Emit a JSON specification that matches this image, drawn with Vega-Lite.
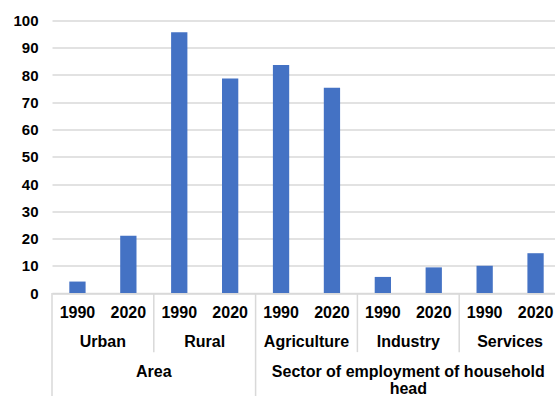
{
  "$schema": "https://vega.github.io/schema/vega-lite/v6.json",
  "width": 503,
  "height": 272.5,
  "autosize": {"type": "none"},
  "padding": {"left": 52, "top": 20.5, "right": 0, "bottom": 103},
  "config": {
    "view": {"stroke": null},
    "font": "Liberation Sans",
    "text": {"font": "Liberation Sans", "fontWeight": "bold", "fontSize": 16, "color": "#000000"},
    "axisY": {
      "title": null, "labelOverlap": false,
      "domain": false, "ticks": false, "labelPadding": 14,
      "labelFont": "Liberation Sans", "labelFontWeight": "bold", "labelFontSize": 15, "labelColor": "#000000",
      "gridColor": "#d9d9d9", "gridWidth": 1.3
    },
    "axisX": {"labels": false, "ticks": false, "title": null, "domain": true, "domainColor": "#d9d9d9", "domainWidth": 1.5, "grid": false}
  },
  "datasets": {
    "bars": [
      {"group": "Area", "category": "Urban", "year": "1990", "bar": "Urban 1990", "value": 4.2},
      {"group": "Area", "category": "Urban", "year": "2020", "bar": "Urban 2020", "value": 21.0},
      {"group": "Area", "category": "Rural", "year": "1990", "bar": "Rural 1990", "value": 95.7},
      {"group": "Area", "category": "Rural", "year": "2020", "bar": "Rural 2020", "value": 78.7},
      {"group": "Sector", "category": "Agriculture", "year": "1990", "bar": "Agriculture 1990", "value": 83.7},
      {"group": "Sector", "category": "Agriculture", "year": "2020", "bar": "Agriculture 2020", "value": 75.3},
      {"group": "Sector", "category": "Industry", "year": "1990", "bar": "Industry 1990", "value": 5.9},
      {"group": "Sector", "category": "Industry", "year": "2020", "bar": "Industry 2020", "value": 9.4},
      {"group": "Sector", "category": "Services", "year": "1990", "bar": "Services 1990", "value": 10.0},
      {"group": "Sector", "category": "Services", "year": "2020", "bar": "Services 2020", "value": 14.6}
    ],
    "groups": [
      {"label": "Area", "anchor": "Rural 1990"},
      {"label": "Sector of employment of household\nhead", "anchor": "Industry 2020"}
    ]
  },
  "resolve": {"scale": {"x": "shared", "y": "shared"}},
  "layer": [
    {
      "data": {"name": "bars"},
      "mark": {"type": "bar", "color": "#4472C4", "width": {"band": 0.32}},
      "encoding": {
        "x": {
          "field": "bar", "type": "nominal", "sort": null,
          "scale": {
            "domain": ["Urban 1990", "Urban 2020", "Rural 1990", "Rural 2020", "Agriculture 1990", "Agriculture 2020", "Industry 1990", "Industry 2020", "Services 1990", "Services 2020"],
            "range": [0, 509], "paddingInner": 0, "paddingOuter": 0
          }
        },
        "y": {
          "field": "value", "type": "quantitative",
          "scale": {"domain": [0, 100], "nice": false, "zero": true},
          "axis": {"values": [0, 10, 20, 30, 40, 50, 60, 70, 80, 90, 100], "tickCount": 11}
        }
      }
    },
    {
      "data": {"name": "bars"},
      "mark": {"type": "text", "baseline": "alphabetic", "align": "center"},
      "encoding": {
        "x": {"field": "bar", "type": "nominal", "sort": null},
        "y": {"datum": -9.1, "type": "quantitative", "axis": {"values": [0, 10, 20, 30, 40, 50, 60, 70, 80, 90, 100], "tickCount": 11}},
        "text": {"field": "year"}
      }
    },
    {
      "data": {"name": "bars"},
      "transform": [{"filter": "datum.year == '2020'"}],
      "mark": {"type": "text", "baseline": "alphabetic", "align": "center"},
      "encoding": {
        "x": {"field": "bar", "type": "nominal", "sort": null, "bandPosition": 0},
        "y": {"datum": -19.8, "type": "quantitative", "axis": {"values": [0, 10, 20, 30, 40, 50, 60, 70, 80, 90, 100], "tickCount": 11}},
        "text": {"field": "category"}
      }
    },
    {
      "data": {"name": "groups"},
      "mark": {"type": "text", "baseline": "alphabetic", "align": "center", "lineBreak": "\n", "lineHeight": 16.5},
      "encoding": {
        "x": {"field": "anchor", "type": "nominal", "sort": null, "bandPosition": 0},
        "y": {"datum": -31.0, "type": "quantitative", "axis": {"values": [0, 10, 20, 30, 40, 50, 60, 70, 80, 90, 100], "tickCount": 11}},
        "text": {"field": "label"}
      }
    },
    {
      "data": {"name": "bars"},
      "transform": [{"filter": "datum.year == '1990' && (datum.category == 'Rural' || datum.category == 'Industry' || datum.category == 'Services')"}],
      "mark": {"type": "rule", "color": "#d9d9d9", "strokeWidth": 1.5},
      "encoding": {
        "x": {"field": "bar", "type": "nominal", "sort": null, "bandPosition": 0},
        "y": {"datum": 0, "type": "quantitative", "axis": {"values": [0, 10, 20, 30, 40, 50, 60, 70, 80, 90, 100], "tickCount": 11}},
        "y2": {"datum": -21.7}
      }
    },
    {
      "data": {"name": "bars"},
      "transform": [{"filter": "datum.year == '1990' && (datum.category == 'Urban' || datum.category == 'Agriculture')"}],
      "mark": {"type": "rule", "color": "#d9d9d9", "strokeWidth": 1.5},
      "encoding": {
        "x": {"field": "bar", "type": "nominal", "sort": null, "bandPosition": 0},
        "y": {"datum": 0, "type": "quantitative", "axis": {"values": [0, 10, 20, 30, 40, 50, 60, 70, 80, 90, 100], "tickCount": 11}},
        "y2": {"datum": -38.5}
      }
    }
  ]
}
